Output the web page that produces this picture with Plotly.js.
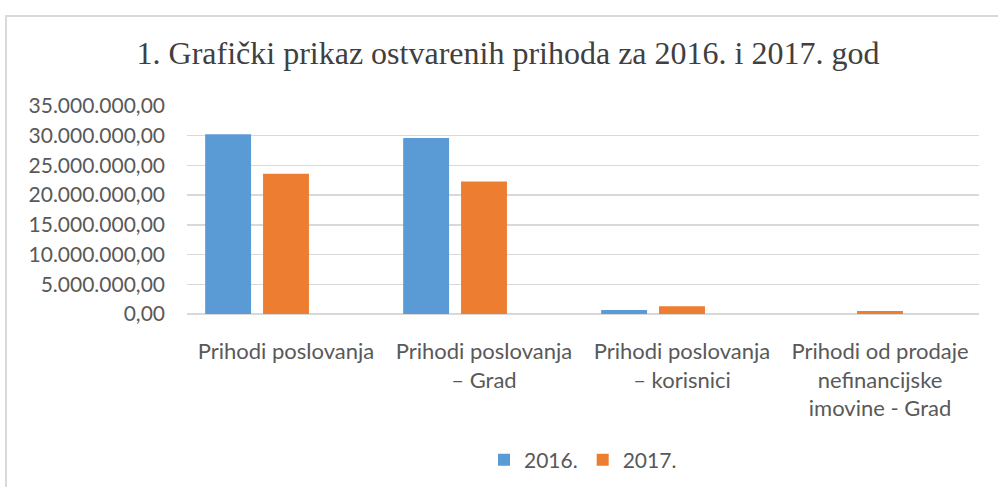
<!DOCTYPE html>
<html>
<head>
<meta charset="utf-8">
<script src="https://cdn.plot.ly/plotly-3.0.1.min.js"></script>
<style>
  html, body { margin: 0; padding: 0; background: #fff; }
  #wrap { position: relative; width: 998px; height: 487px; }
  #chart { width: 998px; height: 487px; }
  #frame { position: absolute; left: 5px; top: 15px; width: 1000px; height: 500px;
           border-left: 2px solid #d9d9d9; border-top: 2px solid #d9d9d9; pointer-events: none; }
</style>
</head>
<body>
<div id="wrap">
  <div id="chart"></div>
  <div id="frame"></div>
</div>
<script>
const categories = [
  "Prihodi poslovanja",
  "Prihodi poslovanja<br>– Grad",
  "Prihodi poslovanja<br>– korisnici",
  "Prihodi od prodaje<br>nefinancijske<br>imovine - Grad"
];
const series2016 = [30240000, 29600000, 670000, 0];
const series2017 = [23600000, 22300000, 1290000, 500000];
const seriesEmpty = [null, null, null, null];
const yTicks = [0, 5000000, 10000000, 15000000, 20000000, 25000000, 30000000, 35000000];

const traces = [
  { type: 'bar', name: '2016.', x: categories, y: series2016, marker: { color: '#5B9BD5' } },
  { type: 'bar', name: '2017.', x: categories, y: series2017, marker: { color: '#ED7D31' } },
  { type: 'bar', name: '', x: categories, y: seriesEmpty, showlegend: false, marker: { color: '#A5A5A5' } }
];

const layout = {
  width: 998, height: 487,
  margin: { l: 187, r: 19, t: 106, b: 173 },
  paper_bgcolor: '#ffffff', plot_bgcolor: '#ffffff',
  separators: ',.',
  barmode: 'group',
  bargap: 0.123,
  bargroupgap: 0.207,
  font: { family: 'Lato, "Open Sans", sans-serif', size: 21, color: '#595959' },
  title: {
    text: '1. Grafički prikaz ostvarenih prihoda za 2016. i 2017. god',
    font: { family: '"Liberation Serif", "Times New Roman", serif', size: 32, color: '#404040', weight: 'normal' },
    x: 0.509, xanchor: 'center', xref: 'container',
    y: 57, yref: 'container', yanchor: 'middle'
  },
  xaxis: {
    type: 'category',
    showgrid: false, zeroline: false, showline: false,
    ticks: '', ticklabelstandoff: 22,
    tickfont: { size: 22, color: '#595959' }
  },
  yaxis: {
    range: [0, 35000000],
    tickvals: yTicks,
    tickformat: ',.2f',
    showgrid: true, gridcolor: '#d9d9d9', gridwidth: 1.5,
    zeroline: true, zerolinecolor: '#d9d9d9', zerolinewidth: 1.5,
    showline: false, ticks: '',
    ticklabelstandoff: 21,
    tickfont: { size: 21, color: '#595959' }
  },
  legend: {
    orientation: 'h', x: 0.5, xanchor: 'center',
    yref: 'container', y: 0.055, yanchor: 'middle',
    font: { size: 21, color: '#595959' }, traceorder: 'normal', itemwidth: 30
  },
  showlegend: true
};

Plotly.newPlot('chart', traces, layout, { staticPlot: true, displayModeBar: false });
</script>
</body>
</html>
